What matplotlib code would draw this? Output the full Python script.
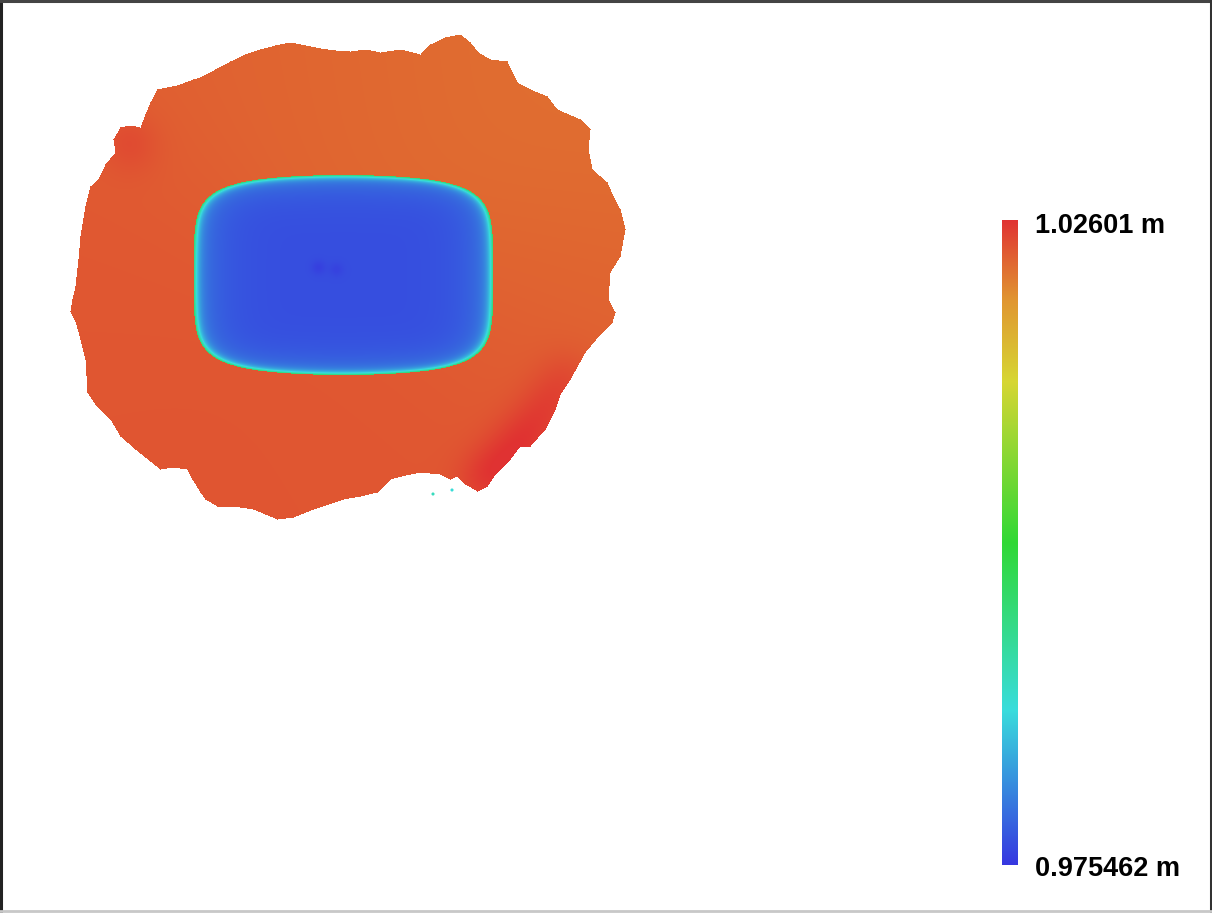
import numpy as np
import matplotlib
matplotlib.use("Agg")
import matplotlib.pyplot as plt
from matplotlib.colors import LinearSegmentedColormap, Normalize
from matplotlib.path import Path
from matplotlib.cm import ScalarMappable

# Height range of the surface (m)
z_min = 0.975462
z_max = 1.02601
label_top = "1.02601 m"
label_bottom = "0.975462 m"

# Colour ramp: stops as fractions of the height range
ramp_stops = [0.0, 0.24, 0.50, 0.75, 0.875, 1.0]
ramp_colors = ["#3636e0", "#38dcdc", "#30d834", "#d6d632", "#e09630", "#e03232"]

# Outer boundary of the scanned surface (plan coordinates)
outline_x = [157, 167, 177, 193, 200, 215, 230, 245, 260, 275, 290, 305, 320, 335, 350,
             365, 380, 400, 420, 430, 445, 460, 470, 478, 490, 507, 517, 530, 547,
             557, 580, 590, 588, 592, 607, 613, 620, 625, 620, 610, 608, 615, 612, 600,
             585, 570, 560, 555, 545, 530, 520, 510, 495, 487, 477, 465, 457, 450,
             440, 420, 405, 390, 377, 360, 343, 313, 293, 277, 265, 253, 233, 217, 205,
             200, 192, 187, 172, 160, 150, 135, 120, 110, 95, 87, 85, 80, 75, 70, 72,
             75, 78, 80, 85, 90, 98, 105, 115, 113, 120, 130, 140, 145, 150]
outline_y = [90, 88, 86, 80, 78, 70, 62, 55, 50, 46, 43, 46, 49, 51, 52,
             50, 53, 50, 55, 45, 38, 35, 43, 53, 60, 62, 83, 90, 97,
             110, 120, 130, 150, 170, 183, 197, 210, 230, 257, 273, 300, 313, 323, 335,
             353, 380, 395, 410, 430, 447, 447, 460, 475, 487, 492, 485, 477, 480,
             475, 473, 476, 480, 493, 497, 500, 510, 518, 520, 515, 510, 507, 507, 500,
             493, 480, 470, 468, 470, 462, 450, 437, 420, 405, 393, 360, 340, 322, 312, 300,
             287, 260, 237, 207, 187, 180, 165, 153, 140, 128, 126, 128, 115, 103]

# Spot heights on the surrounding surface (m)
spot_x = [560, 470, 380, 280, 180, 100, 90, 150, 260, 380, 460, 590, 560,
          343, 343, 160, 530, 500]
spot_y = [150, 70, 80, 70, 110, 250, 350, 430, 480, 460, 430, 240, 340,
          140, 410, 275, 275, 400]
spot_z = [1.0220, 1.0222, 1.0225, 1.0228, 1.0232, 1.0236, 1.0237, 1.0238,
          1.0238, 1.0237, 1.0238, 1.0225, 1.0231, 1.0227, 1.0236, 1.0236,
          1.0228, 1.0236]

# Narrow raised ridges along the edge (m, added to the surface)
ridge_x = [127, 133, 565, 548, 530, 514, 497, 482]
ridge_y = [138, 150, 378, 405, 430, 450, 468, 482]
ridge_dz = [0.0006, 0.0005, 0.0010, 0.0012, 0.0013, 0.0013, 0.0012, 0.0011]

# Central pit
pit_cx, pit_cy = 343, 275.5
pit_half_x, pit_half_y = 150, 100
pit_top_bulge = 0.12
pit_side_bulge = 0.03
pit_corner_exp = 6.0
pit_floor_z = 0.97723
pit_wall_z = 0.98150
pit_lip_z = 0.9965

# Small hollows in the pit floor (m)
hollow_x = [318, 336]
hollow_y = [268, 270]
hollow_z = [0.9762, 0.9764]

# Isolated returns outside the surface (m)
stray_x = [452, 433]
stray_y = [490, 494]
stray_z = [0.9880, 0.9900]

cmap = LinearSegmentedColormap.from_list("height", list(zip(ramp_stops, ramp_colors)),
                                         N=4096)
norm = Normalize(vmin=z_min, vmax=z_max)

# Raster grid
gx = np.arange(55, 635)
gy = np.arange(25, 530)
X, Y = np.meshgrid(gx, gy)

inside = Path(np.column_stack([outline_x, outline_y])).contains_points(
    np.column_stack([X.ravel(), Y.ravel()])).reshape(X.shape)

# Surrounding surface: weighted blend of the spot heights
sx = np.array(spot_x, float)[:, None, None]
sy = np.array(spot_y, float)[:, None, None]
sz = np.array(spot_z, float)[:, None, None]
w = np.exp(-((X - sx) ** 2 + (Y - sy) ** 2) / (2 * 90.0 ** 2)) + 1e-30
Z = (w * sz).sum(0) / w.sum(0)
for rx, ry, rdz in zip(ridge_x, ridge_y, ridge_dz):
    Z += rdz * np.exp(-((X - rx) ** 2 + (Y - ry) ** 2) / (2 * 20.0 ** 2))

# Pit: slightly bulging top/bottom edges, near-straight sides
u = np.abs(X - pit_cx) / pit_half_x
v = np.abs(Y - pit_cy) / pit_half_y
a_eff = 1.0 - pit_side_bulge * np.clip(v, 0, 1) ** 2
b_eff = 1.0 - pit_top_bulge * np.clip(u, 0, 1) ** 2
un = u / a_eff
vn = v / b_eff
d = (un ** pit_corner_exp + vn ** pit_corner_exp) ** (1.0 / pit_corner_exp)
in_pit = d < 1.0
depth = np.minimum((1 - un) * pit_half_x * a_eff, (1 - vn) * pit_half_y * b_eff)
depth = np.minimum(depth, (1 - d) * pit_half_y)
depth = np.clip(depth, 0, None)
Zp = (pit_floor_z
      + (pit_wall_z - pit_floor_z) * np.exp(-depth / 14.0)
      + (pit_lip_z - pit_wall_z) * np.exp(-depth / 2.5))
for hx, hy, hz in zip(hollow_x, hollow_y, hollow_z):
    Zp += (hz - pit_floor_z) * np.exp(-((X - hx) ** 2 + (Y - hy) ** 2) / (2 * 5.0 ** 2))
Z = np.where(in_pit, Zp, Z)
Z = np.ma.masked_where(~inside, Z)

fig = plt.figure(figsize=(12.12, 9.13), dpi=100)
ax = fig.add_axes([0, 0, 1, 1])
ax.imshow(Z, cmap=cmap, norm=norm, origin="upper", aspect="auto",
          interpolation="bilinear",
          extent=[gx[0] - 0.5, gx[-1] + 0.5, gy[-1] + 0.5, gy[0] - 0.5])
ax.scatter(stray_x, stray_y, c=stray_z, cmap=cmap, norm=norm, s=5, linewidths=0)
ax.set_xlim(0, 1212)
ax.set_ylim(913, 0)
ax.axis("off")

# Colour scale
cax = fig.add_axes([1002 / 1212, (913 - 865) / 913, 16 / 1212, 645 / 913])
cb = fig.colorbar(ScalarMappable(norm=norm, cmap=cmap), cax=cax)
cb.outline.set_visible(False)
cax.set_yticks([])
fig.text(1035 / 1212, 1 - 226 / 913, label_top, fontsize=19.5, fontweight="bold",
         family="Liberation Sans", va="center", ha="left")
fig.text(1035 / 1212, 1 - 869 / 913, label_bottom, fontsize=19.5, fontweight="bold",
         family="Liberation Sans", va="center", ha="left")

# Frame
frame = fig.add_axes([0, 0, 1, 1], facecolor="none")
frame.set_xlim(0, 1212)
frame.set_ylim(913, 0)
frame.axis("off")
frame.plot([1, 1], [0, 913], color="#222222", lw=2.2)
frame.plot([0, 1212], [1, 1], color="#444444", lw=2.2)
frame.plot([1210.5, 1210.5], [0, 913], color="#333333", lw=2.2)
frame.plot([0, 1212], [911.5, 911.5], color="#c8c8c8", lw=2.0)

fig.savefig("out.png", dpi=100)
